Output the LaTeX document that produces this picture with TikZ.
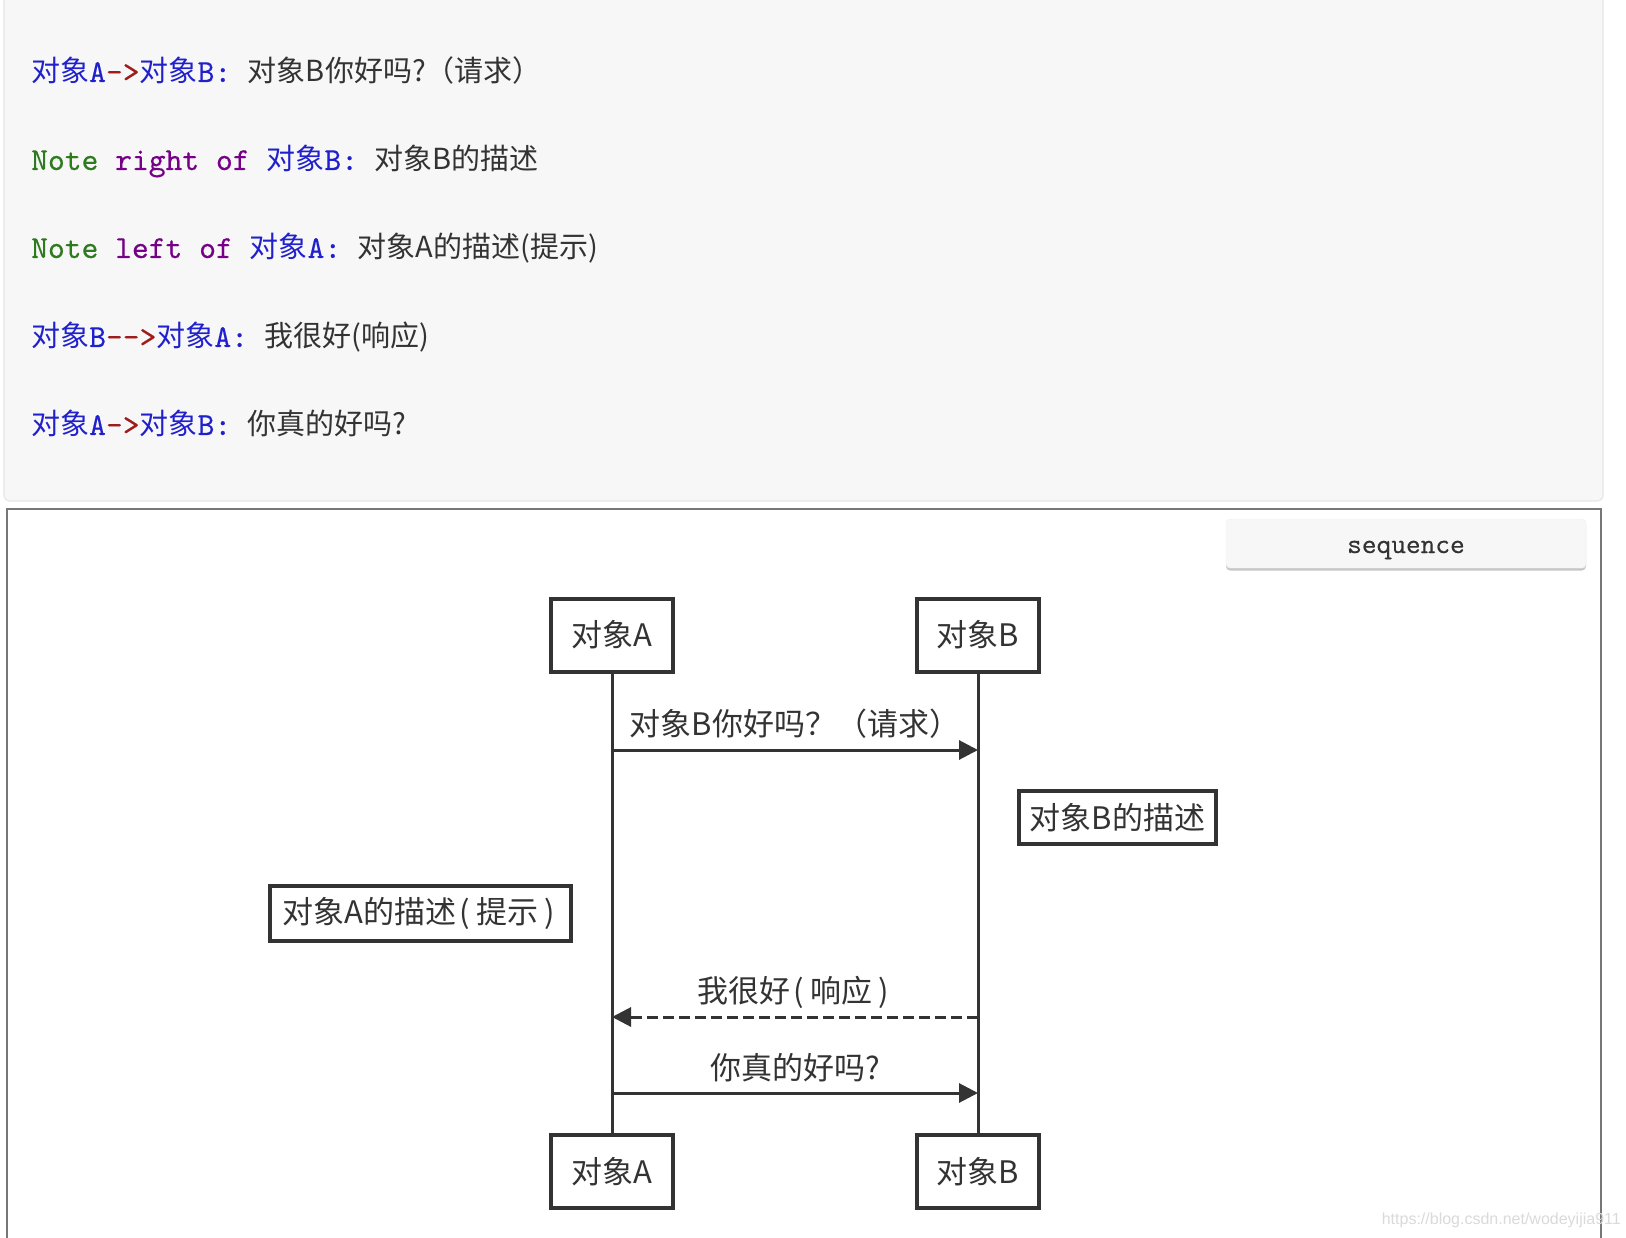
\documentclass[tikz,border=0pt]{standalone}
\usepackage{fontspec}
\usetikzlibrary{arrows.meta}
\newfontfamily\cjkfont{Noto Sans CJK SC}
\newfontfamily\wmfont{Liberation Sans}
\newfontfamily\codemono{lmmono10-regular.otf}[FakeBold=0.3]
\newfontfamily\btnmono{lmmono10-regular.otf}[FakeBold=0.15]
\definecolor{ink}{HTML}{333333}
\definecolor{codebg}{HTML}{F7F7F7}
\definecolor{codeframe}{HTML}{E6E6E6}
\definecolor{panelframe}{HTML}{777777}
\definecolor{codeblue}{HTML}{2020CC}
\definecolor{codered}{HTML}{9E1C1C}
\definecolor{codegreen}{HTML}{2E7A1E}
\definecolor{codepurple}{HTML}{770088}
\definecolor{wmgray}{HTML}{DADADA}
\newcommand\cj[1]{{\cjkfont\fontsize{29}{34}\selectfont #1}}
\newcommand\cbl[1]{{\color{codeblue}#1}}
\newcommand\cre[1]{{\color{codered}#1}}
\newcommand\cgr[1]{{\color{codegreen}#1}}
\newcommand\cpu[1]{{\color{codepurple}#1}}
\newcommand\lpar{\kern0.12em(\kern0.2em}
\newcommand\rpar{\kern0.2em)\kern0.12em}
\tikzset{
  codeline/.style={anchor=base west, inner sep=0pt, text=ink,
    font=\codemono\fontsize{32}{38}\selectfont},
  actor/.style={draw=ink, line width=4pt, fill=white, minimum width=122pt,
    minimum height=73pt, inner sep=0pt, text=ink,
    font=\cjkfont\fontsize{31}{36}\selectfont},
  notebox/.style={draw=ink, line width=4pt, fill=white, inner sep=0pt, text=ink,
    font=\cjkfont\fontsize{31}{36}\selectfont},
  life/.style={draw=ink, line width=3pt},
  msg/.style={draw=ink, line width=3pt, -{Triangle[length=19pt,width=19pt]}},
  reply/.style={msg, dash pattern=on 11pt off 5pt},
  lbl/.style={text=ink, inner sep=0pt, font=\cjkfont\fontsize{31}{36}\selectfont},
  wm/.style={text=wmgray, inner sep=0pt, font=\wmfont\fontsize{16}{19}\selectfont}
}
\begin{document}
\begin{tikzpicture}[x=1pt, y=-1pt]
\useasboundingbox (0,0) rectangle (1626,1238);
\fill[white] (0,0) rectangle (1626,1238);
% code panel
\draw[codeframe, fill=codebg, line width=1.2pt, rounded corners=6pt] (4,-20) rectangle (1603,501);
% result panel
\draw[panelframe, line width=2.5pt] (7,1260) -- (7,509) -- (1601,509) -- (1601,1260);
% sequence button
\fill[black!22, rounded corners=4pt] (1226,521) rectangle (1586,570.5);
\draw[black!6, fill=codebg, rounded corners=4pt] (1226,519) rectangle (1586,568);
\node[text=ink, inner sep=0pt, font=\btnmono\fontsize{28}{32}\selectfont] (seq) at (1406,550) {sequence};
% code lines
\node[codeline] (c1) at (31,82) {\cbl{\cj{对象}A}\cre{->}\cbl{\cj{对象}B:} \cj{对象B你好吗?（请求）}};
\node[codeline] (c2) at (31,170) {\cgr{Note} \cpu{right} \cpu{of} \cbl{\cj{对象}B:} \cj{对象B的描述}};
\node[codeline] (c3) at (31,258) {\cgr{Note} \cpu{left} \cpu{of} \cbl{\cj{对象}A:} \cj{对象A的描述(提示)}};
\node[codeline] (c4) at (31,347) {\cbl{\cj{对象}B}\cre{-{}->}\cbl{\cj{对象}A:} \cj{我很好(响应)}};
\node[codeline] (c5) at (31,435) {\cbl{\cj{对象}A}\cre{->}\cbl{\cj{对象}B:} \cj{你真的好吗?}};
% actors
\node[actor] (A1) at (612,635) {对象A};
\node[actor] (B1) at (978,635) {对象B};
\node[actor] (A2) at (612,1171.5) {对象A};
\node[actor] (B2) at (978,1171.5) {对象B};
\draw[life] (A1.south) -- (A2.north);
\draw[life] (B1.south) -- (B2.north);
% notes
\node[notebox, minimum width=197pt, minimum height=53pt] (nB) at (1117.5,817.5) {对象B的描述};
\node[notebox, minimum width=301pt, minimum height=55pt] (nA) at (420.5,913.5) {对象A的描述\lpar 提示\rpar};
% messages
\draw[msg] (A1 |- 0,750) -- node[lbl, yshift=26pt] (l1) {对象B你好吗？（请求）} (B1 |- 0,750);
\draw[reply] (B1 |- 0,1017) -- node[lbl, yshift=25pt] (l2) {我很好\lpar 响应\rpar} (A1 |- 0,1017);
\draw[msg] (A1 |- 0,1093) -- node[lbl, yshift=25pt] (l3) {你真的好吗?} (B1 |- 0,1093);
% watermark
\node[wm, anchor=east] (wmk) at (1621,1220) {https://blog.csdn.net/wodeyijia911};
\end{tikzpicture}
\end{document}
